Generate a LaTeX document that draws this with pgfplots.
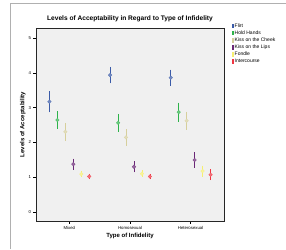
\documentclass[border=0pt]{standalone}
\usepackage{pgfplots}
\pgfplotsset{compat=1.18}
\usepackage{fontspec}
\setmainfont{Liberation Sans}
\definecolor{cFlirt}{HTML}{3B5BA8}
\definecolor{cHH}{HTML}{2DB34A}
\definecolor{cKC}{HTML}{D6CF9C}
\definecolor{cKL}{HTML}{6A2776}
\definecolor{cFo}{HTML}{F6F070}
\definecolor{cIn}{HTML}{EE3542}
\definecolor{bg}{HTML}{F0F0F0}
\definecolor{frame}{HTML}{B0B0B0}
\begin{document}
\begin{tikzpicture}[x=1pt,y=1pt]
\useasboundingbox (0,0) rectangle (286,249);
\draw[frame,line width=0.6pt] (10,0) -- (10,246) -- (286,246);
\begin{axis}[
  at={(36pt,28pt)}, anchor=south west,
  scale only axis, width=188pt, height=193pt,
  xmin=-0.55, xmax=2.55, ymin=-0.26, ymax=5.29,
  axis background/.style={fill=bg},
  axis line style={line width=0.9pt, black!85},
  xtick={0,1,2}, xticklabels={Mixed,Homosexual,Heterosexual},
  ytick={0,1,2,3,4,5},
  tick align=outside, tick pos=left,
  major tick length=2.5pt,
  tick style={line width=0.6pt, black},
  /pgf/number format/assume math mode=true,
  ticklabel style={font=\fontsize{4.3}{5}\selectfont},
  xticklabel style={yshift=1pt},
  yticklabel style={xshift=1pt},
  title={Levels of Acceptability in Regard to Type of Infidelity},
  title style={font=\fontsize{6.6}{8}\selectfont\bfseries, yshift=-3pt},
  xlabel={Type of Infidelity},
  ylabel={Levels of Acceptability},
  label style={font=\fontsize{6}{7}\selectfont\bfseries},
  xlabel style={yshift=3pt},
  ylabel style={yshift=-4pt},
  legend style={at={(1.04,1.03)}, anchor=north west, draw=none, fill=none,
    font=\fontsize{5}{5.5}\selectfont, row sep=0pt, inner sep=0pt,
    nodes={inner sep=1pt}},
  legend cell align=left,
  legend image code/.code={\fill[#1,draw=none] (0pt,-2.3pt) rectangle (2pt,2.3pt);},
  every axis plot/.append style={only marks, mark=*, mark size=1.8pt,
    mark options={fill=.!70!white, draw=.!85!white, line width=0.3pt},
    /pgfplots/error bars/y dir=both, /pgfplots/error bars/y explicit,
    /pgfplots/error bars/error mark=-,
    /pgfplots/error bars/error mark options={line width=0.7pt, mark size=1.5pt},
    /pgfplots/error bars/error bar style={line width=0.8pt}},
]
\addplot[color=cFlirt] coordinates {(-0.328,3.17) +- (0,0.265) (0.672,3.935) +- (0,0.195) (1.672,3.86) +- (0,0.19)};
\addlegendentry{Flirt}
\addplot[color=cHH] coordinates {(-0.197,2.645) +- (0,0.215) (0.803,2.565) +- (0,0.215) (1.803,2.87) +- (0,0.23)};
\addlegendentry{Hold Hands}
\addplot[color=cKC] coordinates {(-0.066,2.305) +- (0,0.215) (0.934,2.145) +- (0,0.195) (1.934,2.625) +- (0,0.215)};
\addlegendentry{Kiss on the Cheek}
\addplot[color=cKL] coordinates {(0.066,1.375) +- (0,0.115) (1.066,1.30) +- (0,0.12) (2.066,1.495) +- (0,0.175)};
\addlegendentry{Kiss on the Lips}
\addplot[color=cFo] coordinates {(0.197,1.09) +- (0,0.05) (1.197,1.10) +- (0,0.05) (2.197,1.175) +- (0,0.115)};
\addlegendentry{Fondle}
\addplot[color=cIn] coordinates {(0.328,1.02) +- (0,0.03) (1.328,1.02) +- (0,0.03) (2.328,1.07) +- (0,0.11)};
\addlegendentry{Intercourse}
\end{axis}
\end{tikzpicture}
\end{document}
